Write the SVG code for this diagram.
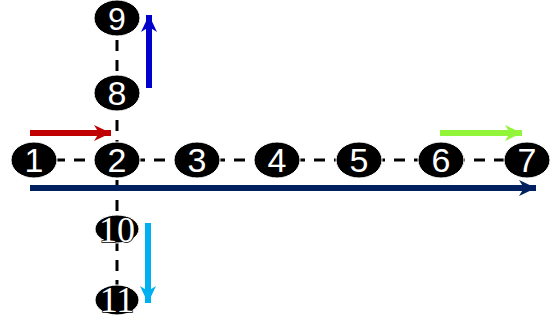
<svg xmlns="http://www.w3.org/2000/svg" width="552" height="322" viewBox="0 0 552 322">
<style>
.n{fill:#000;stroke:#fff;stroke-width:1}
.t{font-family:"Liberation Sans",Arial,sans-serif;font-size:34px;fill:#fff;text-anchor:middle}
.s{font-family:"Liberation Serif","Times New Roman",serif;font-size:36px;fill:#fff;stroke:#000;stroke-width:1.5;paint-order:stroke;text-anchor:middle}
.d{stroke:#000;stroke-width:3;stroke-dasharray:11 9;fill:none}
.a{stroke-width:6;fill:none}
</style>
<defs>
<marker id="mr" markerUnits="userSpaceOnUse" markerWidth="18" markerHeight="18" refX="17" refY="8" orient="auto"><path d="M0,0 L17,8 L0,16 L5,8 Z" fill="#c00000"/></marker>
<marker id="mb" markerUnits="userSpaceOnUse" markerWidth="18" markerHeight="18" refX="17" refY="8" orient="auto"><path d="M0,0 L17,8 L0,16 L5,8 Z" fill="#0000cc"/></marker>
<marker id="mn" markerUnits="userSpaceOnUse" markerWidth="18" markerHeight="18" refX="17" refY="8" orient="auto"><path d="M0,0 L17,8 L0,16 L5,8 Z" fill="#002060"/></marker>
<marker id="mg" markerUnits="userSpaceOnUse" markerWidth="18" markerHeight="18" refX="17" refY="8" orient="auto"><path d="M0,0 L17,8 L0,16 L5,8 Z" fill="#92f53a"/></marker>
<marker id="mc" markerUnits="userSpaceOnUse" markerWidth="18" markerHeight="18" refX="17" refY="8" orient="auto"><path d="M0,0 L17,8 L0,16 L5,8 Z" fill="#00b0f0"/></marker>
</defs>
<g id="connectors">
<line class="d" x1="34" y1="160" x2="526" y2="160"/>
<line class="d" x1="117" y1="0" x2="117" y2="300"/>
<line class="a" stroke="#c00000" x1="30" y1="133" x2="111" y2="133" marker-end="url(#mr)"/>
<line class="a" stroke="#0000cc" x1="149" y1="88" x2="149" y2="15" marker-end="url(#mb)"/>
<line class="a" stroke="#002060" x1="30" y1="188" x2="536" y2="188" marker-end="url(#mn)"/>
<line class="a" stroke="#92f53a" x1="440" y1="133" x2="522" y2="133" marker-end="url(#mg)"/>
<line class="a" stroke="#00b0f0" x1="148" y1="223" x2="148" y2="303" marker-end="url(#mc)"/>
</g>
<g id="node1"><ellipse class="n" cx="34" cy="160" rx="23" ry="18"/><text class="t" x="34" y="172">1</text></g>
<g id="node2"><ellipse class="n" cx="117" cy="160" rx="23" ry="18"/><text class="t" x="117" y="172">2</text></g>
<g id="node3"><ellipse class="n" cx="197" cy="160" rx="23" ry="18"/><text class="t" x="197" y="172">3</text></g>
<g id="node4"><ellipse class="n" cx="277" cy="160" rx="23" ry="18"/><text class="t" x="277" y="172">4</text></g>
<g id="node5"><ellipse class="n" cx="359" cy="160" rx="23" ry="18"/><text class="t" x="359" y="172">5</text></g>
<g id="node6"><ellipse class="n" cx="441" cy="160" rx="23" ry="18"/><text class="t" x="441" y="172">6</text></g>
<g id="node7"><ellipse class="n" cx="527" cy="160" rx="23" ry="18"/><text class="t" x="527" y="172">7</text></g>
<g id="node8"><ellipse class="n" cx="117" cy="93" rx="23" ry="18"/><text class="t" x="117" y="105">8</text></g>
<g id="node9"><ellipse class="n" cx="117" cy="18" rx="23" ry="18"/><text class="t" x="117" y="30" style="font-size:32px">9</text></g>
<g id="node10"><ellipse class="n" cx="117" cy="229" rx="22" ry="14"/><text class="s" x="117" y="242">10</text></g>
<g id="node11"><ellipse class="n" cx="117" cy="300" rx="22" ry="15"/><text class="s" x="117" y="312">11</text></g>
</svg>
